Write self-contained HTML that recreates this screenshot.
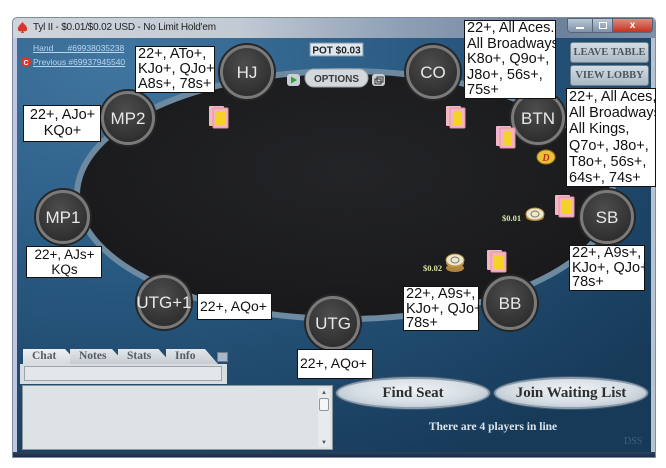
<!DOCTYPE html>
<html><head><meta charset="utf-8">
<style>
*{margin:0;padding:0;box-sizing:border-box}
body{width:666px;height:468px;background:#fff;position:relative;overflow:hidden;font-family:"Liberation Sans",sans-serif}
.abs{position:absolute}
.lbl{position:absolute;background:#fff;border:1.5px solid #111;color:#111;font-family:"Liberation Sans",sans-serif;font-size:14.5px;line-height:15px;padding:0 1px 0 2px;white-space:nowrap;overflow:hidden}
.btn{position:absolute;background:linear-gradient(#d4dde4,#a9b8c3);border:1px solid #6f8090;border-radius:3px;font-family:"Liberation Serif",serif;font-weight:bold;font-size:10.5px;color:#4b5660;text-align:center;line-height:19px}
.tab{position:absolute;top:349px;height:15px;background:linear-gradient(#e3e7ea,#c6ccd1);font-family:"Liberation Serif",serif;font-weight:bold;font-size:11.5px;color:#555d64;line-height:15px;padding-left:9px;clip-path:polygon(0 0,75% 0,100% 100%,0 100%)}
.oval{position:absolute;border-radius:50%;background:radial-gradient(ellipse at 50% 40%,#eef2f5 0%,#d5dde4 55%,#a9b6c1 100%);border:2px solid #8d9cab;box-shadow:0 0 0 1px #3a5670;font-family:"Liberation Serif",serif;font-weight:bold;font-size:15px;color:#2e2e2e;text-align:center;line-height:28px}
</style></head><body>

<!-- window frame -->
<div class="abs" style="left:12px;top:17px;width:644px;height:441px;background:#b7c3d0;border:1px solid #7f8c9c;border-radius:5px 5px 0 0"></div>
<div class="abs" style="left:13px;top:38px;width:4px;height:414px;background:#c3c6e2"></div>
<!-- title bar -->
<div class="abs" style="left:13px;top:18px;width:642px;height:20px;background:linear-gradient(90deg,#d0d5dc 0%,#c2cad4 35%,#8fa0b6 60%,#6d819b 85%,#7e90a8 100%);border-radius:5px 5px 0 0"></div>
<svg class="abs" style="left:16px;top:21px" width="13" height="13" viewBox="0 0 13 13"><path d="M6.5 1 C9 4 12 6 11 9 C10 11 7.5 10.5 7 9.5 L8 12 L5 12 L6 9.5 C5.5 10.5 3 11 2 9 C1 6 4 4 6.5 1Z" fill="#d8352c"/></svg>
<div class="abs" style="left:33px;top:22px;font-size:10px;color:#1e1e1e;white-space:nowrap;letter-spacing:-0.2px">Tyl II - $0.01/$0.02 USD - No Limit Hold'em</div>

<!-- window buttons -->
<div class="abs" style="left:567px;top:18px;width:86px;height:15px;border:1px solid #56657a;border-radius:0 0 4px 4px;overflow:hidden;display:flex">
  <div style="width:25px;background:linear-gradient(#b9c6d6,#7f91a8);border-right:1px solid #56657a;position:relative"><div style="position:absolute;left:8px;top:8px;width:8px;height:2px;background:#fff"></div></div>
  <div style="width:20px;background:linear-gradient(#b9c6d6,#7f91a8);border-right:1px solid #56657a;position:relative"><div style="position:absolute;left:6px;top:3px;width:8px;height:7px;border:1.5px solid #fff"></div></div>
  <div style="flex:1;background:linear-gradient(#e08a7a,#c4321f);color:#fff;font-weight:bold;font-size:10px;text-align:center;line-height:13px">x</div>
</div>

<!-- felt + table -->
<svg class="abs" style="left:0;top:0" width="666" height="468">
  <defs>
    <radialGradient id="felt" cx="0.15" cy="0.05" r="1.1">
      <stop offset="0" stop-color="#4176a0"/>
      <stop offset="0.45" stop-color="#295a82"/>
      <stop offset="1" stop-color="#173a59"/>
    </radialGradient>
    <radialGradient id="tbl" cx="0.5" cy="0.4" r="0.6">
      <stop offset="0" stop-color="#232427"/>
      <stop offset="1" stop-color="#19191b"/>
    </radialGradient>
    <radialGradient id="seat" cx="0.45" cy="0.35" r="0.7">
      <stop offset="0" stop-color="#4d4d4d"/>
      <stop offset="1" stop-color="#2a2a2a"/>
    </radialGradient>
  </defs>
  <rect x="17" y="38" width="634" height="414" fill="url(#felt)"/>
  <ellipse cx="345" cy="195" rx="268" ry="124" fill="none" stroke="#6d8aa0" stroke-width="6"/>
  <ellipse cx="345" cy="195" rx="265" ry="121" fill="url(#tbl)"/>
  <!-- seats -->
  <g font-family="Liberation Sans, sans-serif" font-size="17" fill="#e8e8e8" text-anchor="middle">
    <g transform="translate(247,72)"><circle r="29" fill="#262626"/><circle r="25.5" fill="url(#seat)" stroke="#7a7a7a" stroke-width="3"/><text y="6">HJ</text></g>
    <g transform="translate(128,118)"><circle r="29" fill="#262626"/><circle r="25.5" fill="url(#seat)" stroke="#7a7a7a" stroke-width="3"/><text y="6">MP2</text></g>
    <g transform="translate(433,72)"><circle r="29" fill="#262626"/><circle r="25.5" fill="url(#seat)" stroke="#7a7a7a" stroke-width="3"/><text y="6">CO</text></g>
    <g transform="translate(538,118)"><circle r="29" fill="#262626"/><circle r="25.5" fill="url(#seat)" stroke="#7a7a7a" stroke-width="3"/><text y="6">BTN</text></g>
    <g transform="translate(63,217)"><circle r="29" fill="#262626"/><circle r="25.5" fill="url(#seat)" stroke="#7a7a7a" stroke-width="3"/><text y="6">MP1</text></g>
    <g transform="translate(164,302)"><circle r="29" fill="#262626"/><circle r="25.5" fill="url(#seat)" stroke="#7a7a7a" stroke-width="3"/><text y="6">UTG+1</text></g>
    <g transform="translate(333,323)"><circle r="29" fill="#262626"/><circle r="25.5" fill="url(#seat)" stroke="#7a7a7a" stroke-width="3"/><text y="6">UTG</text></g>
    <g transform="translate(510,303)"><circle r="29" fill="#262626"/><circle r="25.5" fill="url(#seat)" stroke="#7a7a7a" stroke-width="3"/><text y="6">BB</text></g>
    <g transform="translate(607,217)"><circle r="29" fill="#262626"/><circle r="25.5" fill="url(#seat)" stroke="#7a7a7a" stroke-width="3"/><text y="6">SB</text></g>
  </g>
  <!-- cards -->
  <g>
    <g transform="translate(209,106)"><rect x="0" y="0" width="15" height="20" fill="#f2b7c3" rx="1"/><rect x="4" y="2" width="15" height="20" fill="#f4b3c1" stroke="#e493a6" rx="1"/><rect x="7" y="5" width="9" height="14" fill="#f5d229"/></g>
    <g transform="translate(446,106)"><rect x="0" y="0" width="15" height="20" fill="#f2b7c3" rx="1"/><rect x="4" y="2" width="15" height="20" fill="#f4b3c1" stroke="#e493a6" rx="1"/><rect x="7" y="5" width="9" height="14" fill="#f5d229"/></g>
    <g transform="translate(496,126)"><rect x="0" y="0" width="15" height="20" fill="#f2b7c3" rx="1"/><rect x="4" y="2" width="15" height="20" fill="#f4b3c1" stroke="#e493a6" rx="1"/><rect x="7" y="5" width="9" height="14" fill="#f5d229"/></g>
    <g transform="translate(555,195)"><rect x="0" y="0" width="15" height="20" fill="#f2b7c3" rx="1"/><rect x="4" y="2" width="15" height="20" fill="#f4b3c1" stroke="#e493a6" rx="1"/><rect x="7" y="5" width="9" height="14" fill="#f5d229"/></g>
    <g transform="translate(487,250)"><rect x="0" y="0" width="15" height="20" fill="#f2b7c3" rx="1"/><rect x="4" y="2" width="15" height="20" fill="#f4b3c1" stroke="#e493a6" rx="1"/><rect x="7" y="5" width="9" height="14" fill="#f5d229"/></g>
  </g>
  <!-- dealer button -->
  <ellipse cx="546" cy="157" rx="9" ry="7" fill="#e9c23a" stroke="#a07a18"/>
  <text x="546" y="161" font-family="Liberation Serif, serif" font-weight="bold" font-style="italic" font-size="10" fill="#c0301c" text-anchor="middle">D</text>
  <!-- chips -->
  <ellipse cx="535" cy="217" rx="9" ry="4" fill="#b0873a"/>
  <ellipse cx="535" cy="214" rx="9" ry="6" fill="#f0e6c8" stroke="#a98a45"/>
  <ellipse cx="535" cy="214" rx="4" ry="3" fill="none" stroke="#777"/>
  <text x="502" y="221" font-family="Liberation Serif, serif" font-weight="bold" font-size="8.5" fill="#d6e4a0">$0.01</text>
  <ellipse cx="455" cy="268" rx="9" ry="4" fill="#b0873a"/>
  <ellipse cx="455" cy="263" rx="9" ry="4" fill="#caa050"/>
  <ellipse cx="455" cy="260" rx="9" ry="6" fill="#f0e6c8" stroke="#a98a45"/>
  <ellipse cx="455" cy="260" rx="4" ry="3" fill="none" stroke="#777"/>
  <text x="423" y="271" font-family="Liberation Serif, serif" font-weight="bold" font-size="8.5" fill="#d6e4a0">$0.02</text>
  <!-- options -->
  <rect x="287" y="74" width="13" height="12" rx="3" fill="#c9d0d4"/>
  <path d="M291 76.5 L297 80 L291 83.5Z" fill="#2fa33a"/>
  <rect x="305" y="69" width="63" height="18" rx="9" fill="#d3d8dc" stroke="#9aa3aa"/>
  <text x="336.5" y="82" font-family="Liberation Sans, sans-serif" font-weight="bold" font-size="10" fill="#3a3a3a" text-anchor="middle">OPTIONS</text>
  <rect x="372" y="74" width="13" height="12" rx="3" fill="#c9d0d4"/>
  <rect x="375" y="79" width="6" height="5" fill="none" stroke="#333" stroke-width="1"/>
  <rect x="377" y="77" width="6" height="5" fill="none" stroke="#333" stroke-width="1"/>
  <!-- pot -->
  <rect x="310" y="43" width="53" height="13" fill="#dfe7ee" stroke="#7f95a8"/>
  <text x="336.5" y="53.5" font-family="Liberation Sans, sans-serif" font-weight="bold" font-size="10" fill="#222" text-anchor="middle">POT $0.03</text>
  <!-- hand links icon -->
  <circle cx="26" cy="62" r="5" fill="#d8352c"/>
  <text x="26" y="65" font-family="Liberation Sans, sans-serif" font-weight="bold" font-size="7" fill="#fff" text-anchor="middle">C</text>
</svg>

<div class="abs" style="left:33px;top:43px;font-size:8.5px;color:#bcd6ee;text-decoration:underline;white-space:nowrap">Hand&nbsp;&nbsp;&nbsp;&nbsp;&nbsp;&nbsp;#69938035238</div>
<div class="abs" style="left:33px;top:57px;font-size:8.5px;color:#bcd6ee;text-decoration:underline;white-space:nowrap">Previous #69937945540</div>

<div class="btn" style="left:570px;top:42px;width:79px;height:21px">LEAVE TABLE</div>
<div class="btn" style="left:570px;top:65px;width:79px;height:21px">VIEW LOBBY</div>

<!-- range labels -->
<div class="lbl" style="left:135px;top:46px;width:80px;height:47px">22+, ATo+,<br>KJo+, QJo+<br>A8s+, 78s+</div>
<div class="lbl" style="left:23px;top:105px;width:78px;height:37px;text-align:center;line-height:16px;padding-top:1px">22+, AJo+<br>KQo+</div>
<div class="lbl" style="left:464px;top:20px;width:92px;height:79px;line-height:15.5px">22+, All Aces.<br>All Broadways<br>K8o+, Q9o+,<br>J8o+, 56s+,<br>75s+</div>
<div class="lbl" style="left:566px;top:88px;width:90px;height:99px;line-height:16.2px">22+, All Aces,<br>All Broadways<br>All Kings,<br>Q7o+, J8o+,<br>T8o+, 56s+,<br>64s+, 74s+</div>
<div class="lbl" style="left:26px;top:246px;width:76px;height:32px;text-align:center;font-size:13.5px;line-height:14.5px;padding-top:1px">22+, AJs+<br>KQs</div>
<div class="lbl" style="left:197px;top:293px;width:75px;height:27px;line-height:24px;font-size:14px">22+, AQo+</div>
<div class="lbl" style="left:297px;top:349px;width:76px;height:30px;line-height:27px;font-size:14px">22+, AQo+</div>
<div class="lbl" style="left:403px;top:286px;width:76px;height:45px;line-height:14.5px">22+, A9s+,<br>KJo+, QJo+<br>78s+</div>
<div class="lbl" style="left:569px;top:245px;width:76px;height:46px;line-height:14.5px">22+, A9s+,<br>KJo+, QJo+<br>78s+</div>

<!-- chat tabs -->
<div class="tab" style="left:23px;width:56px;background:linear-gradient(#eef1f3,#d6dbdf)">Chat</div>
<div class="tab" style="left:70px;width:56px;">Notes</div>
<div class="tab" style="left:118px;width:54px;">Stats</div>
<div class="tab" style="left:166px;width:52px;">Info</div>
<div class="abs" style="left:217px;top:352px;width:11px;height:10px;background:#a8b8c8;border:1px solid #6b7d90"></div>
<div class="abs" style="left:20px;top:364px;width:207px;height:20px;background:#d8dde1"></div>
<div class="abs" style="left:24px;top:366px;width:198px;height:15px;background:#e3e7e9;border:1px solid #9ea5aa"></div>
<div class="abs" style="left:22px;top:385px;width:311px;height:65px;background:#dde2e5;border:1px solid #8d969c"></div>
<div class="abs" style="left:318px;top:388px;width:12px;height:59px;background:#e8ebed"></div>
<div class="abs" style="left:319px;top:398px;width:10px;height:13px;background:#f4f6f7;border:1px solid #8d969c;border-radius:2px"></div>
<div class="abs" style="left:321px;top:390px;font-size:6px;color:#555">▲</div>
<div class="abs" style="left:321px;top:440px;font-size:6px;color:#555">▼</div>

<!-- bottom buttons -->
<div class="oval" style="left:336px;top:377px;width:154px;height:32px">Find Seat</div>
<div class="oval" style="left:494px;top:377px;width:154px;height:32px">Join Waiting List</div>
<div class="abs" style="left:420px;top:421px;width:146px;text-align:center;font-family:'Liberation Serif',serif;font-weight:bold;font-size:11.5px;color:#dbe3ea;white-space:nowrap">There are 4 players in line</div>
<div class="abs" style="left:624px;top:436px;font-family:'Liberation Serif',serif;font-size:10px;color:#3d5f7c">DSS</div>

<!-- bottom frame -->
<div class="abs" style="left:13px;top:452px;width:642px;height:5px;background:linear-gradient(#2a4360,#1a2c44)"></div>
</body></html>
